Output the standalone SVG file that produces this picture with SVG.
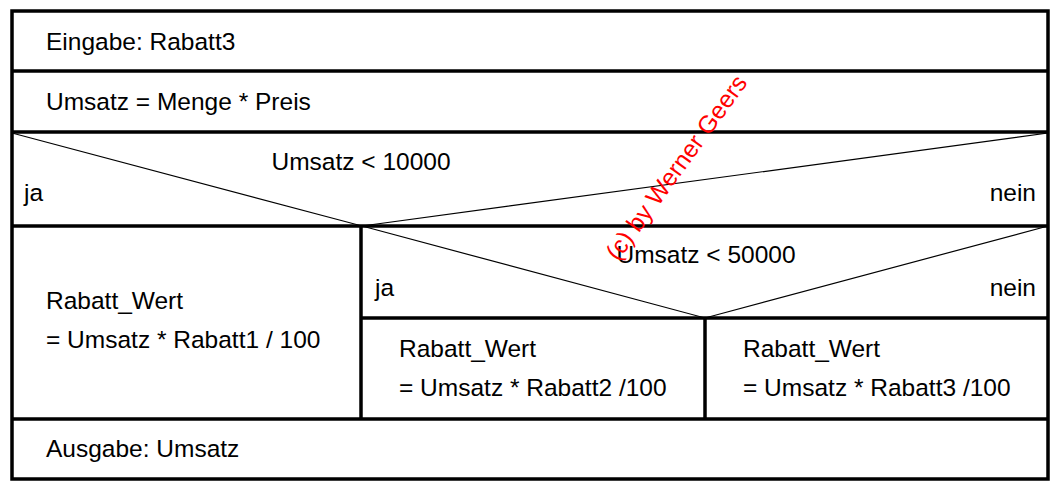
<svg xmlns="http://www.w3.org/2000/svg" width="1052" height="483" viewBox="0 0 1052 483">
<style>
.t{font-family:"Liberation Sans",Arial,sans-serif;font-size:24.5px;fill:#000}
.r{text-anchor:end}
.m{text-anchor:middle}
.b{stroke:#000;stroke-width:3.5;fill:none}
.d{stroke:#000;stroke-width:1.2;fill:none}
.w{font-family:"Liberation Sans",Arial,sans-serif;font-size:24.5px;fill:#ff0000}
</style>
<rect width="1052" height="483" fill="#fff"/>
<g id="frame"><rect class="b" x="12" y="11" width="1036" height="468"/></g>
<g id="n1"><line class="b" x1="12" y1="71" x2="1048" y2="71"/><text class="t" x="46" y="50">Eingabe: Rabatt3</text></g>
<g id="n2"><line class="b" x1="12" y1="132" x2="1048" y2="132"/><text class="t" x="46" y="110">Umsatz = Menge * Preis</text></g>
<g id="n3">
<line class="b" x1="12" y1="226" x2="1048" y2="226"/>
<text class="t m" x="361" y="170">Umsatz &lt; 10000</text>
<text class="t" x="24" y="201">ja</text>
<text class="t r" x="1036" y="201">nein</text>
</g>
<g id="n4">
<line class="b" x1="361" y1="226" x2="361" y2="419"/>
<text class="t" x="46" y="309">Rabatt_Wert</text>
<text class="t" x="46" y="348">= Umsatz * Rabatt1 / 100</text>
</g>
<g id="n5">
<line class="b" x1="361" y1="318" x2="1048" y2="318"/>
<text class="t m" x="706" y="263">Umsatz &lt; 50000</text>
<text class="t" x="375" y="296">ja</text>
<text class="t r" x="1036" y="296">nein</text>
</g>
<g id="n6">
<line class="b" x1="705" y1="318" x2="705" y2="419"/>
<text class="t" x="399" y="357">Rabatt_Wert</text>
<text class="t" x="399" y="396">= Umsatz * Rabatt2 /100</text>
</g>
<g id="n7">
<text class="t" x="743" y="357">Rabatt_Wert</text>
<text class="t" x="743" y="396">= Umsatz * Rabatt3 /100</text>
</g>
<g id="n8"><line class="b" x1="12" y1="419" x2="1048" y2="419"/><text class="t" x="46" y="457">Ausgabe: Umsatz</text></g>
<g id="connectors">
<polyline class="d" points="12,133 362,226 1048,133"/>
<polyline class="d" points="362,226 705,318 1048,226"/>
</g>
<text class="w" x="618" y="262" transform="rotate(-54 618 262)">(c) by Werner Geers</text>
</svg>
